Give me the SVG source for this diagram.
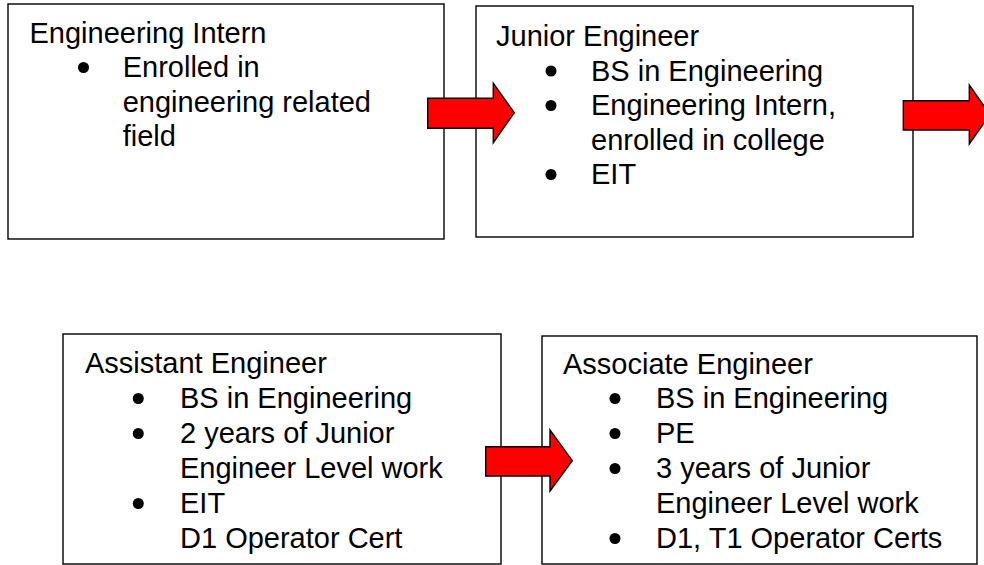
<svg xmlns="http://www.w3.org/2000/svg" width="984" height="565" viewBox="0 0 984 565">
<style>
.box{fill:#fff;stroke:#000;stroke-width:1.4}
.t{font-family:"Liberation Sans",Arial,sans-serif;font-size:29px;fill:#000}
.b{fill:#000}
.arrow{fill:#ff0000;stroke:#000;stroke-width:1.4;stroke-linejoin:miter}
</style>
<rect width="984" height="565" fill="#fff"/>
<g id="node-intern">
<rect class="box" x="8" y="4" width="436" height="235"/>
<text class="t" x="29.5" y="42.5">Engineering Intern</text>
<circle class="b" cx="83.5" cy="67.5" r="5.5"/>
<text class="t" x="122.7" y="77">Enrolled in</text>
<text class="t" x="122.7" y="111.5">engineering related</text>
<text class="t" x="122.7" y="146">field</text>
</g>
<g id="node-junior">
<rect class="box" x="476" y="6" width="437" height="231"/>
<text class="t" x="496" y="46">Junior Engineer</text>
<circle class="b" cx="551" cy="71" r="5.5"/>
<text class="t" x="591" y="80.5">BS in Engineering</text>
<circle class="b" cx="551" cy="105.5" r="5.5"/>
<text class="t" x="591" y="115">Engineering Intern,</text>
<text class="t" x="591" y="149.5">enrolled in college</text>
<circle class="b" cx="551" cy="174.5" r="5.5"/>
<text class="t" x="591" y="184">EIT</text>
</g>
<g id="node-assistant">
<rect class="box" x="63" y="334" width="438" height="230"/>
<text class="t" x="85" y="373">Assistant Engineer</text>
<circle class="b" cx="138.3" cy="398.5" r="5.5"/>
<text class="t" x="180" y="408">BS in Engineering</text>
<circle class="b" cx="138.3" cy="433.5" r="5.5"/>
<text class="t" x="180" y="443">2 years of Junior</text>
<text class="t" x="180" y="478">Engineer Level work</text>
<circle class="b" cx="138.3" cy="503.5" r="5.5"/>
<text class="t" x="180" y="513">EIT</text>
<text class="t" x="180" y="548">D1 Operator Cert</text>
</g>
<g id="node-associate">
<rect class="box" x="542" y="336" width="435" height="228"/>
<text class="t" x="563" y="374">Associate Engineer</text>
<circle class="b" cx="615" cy="398.5" r="5.5"/>
<text class="t" x="656" y="408">BS in Engineering</text>
<circle class="b" cx="615" cy="433.5" r="5.5"/>
<text class="t" x="656" y="443">PE</text>
<circle class="b" cx="615" cy="468.5" r="5.5"/>
<text class="t" x="656" y="478">3 years of Junior</text>
<text class="t" x="656" y="513">Engineer Level work</text>
<circle class="b" cx="615" cy="538.5" r="5.5"/>
<text class="t" x="656" y="548">D1, T1 Operator Certs</text>
</g>
<g id="connectors">
<polygon class="arrow" points="427.7,98.3 493.3,98.3 493.3,83.3 514.3,112.7 493.3,142.7 493.3,128.3 427.7,128.3"/>
<polygon class="arrow" points="903.3,100.7 969.3,100.7 969.3,85 990,114.5 969.3,144 969.3,130 903.3,130"/>
<polygon class="arrow" points="485.7,446.7 550,446.7 550,430 572.3,460.7 550,491 550,476 485.7,476"/>
</g>
</svg>
